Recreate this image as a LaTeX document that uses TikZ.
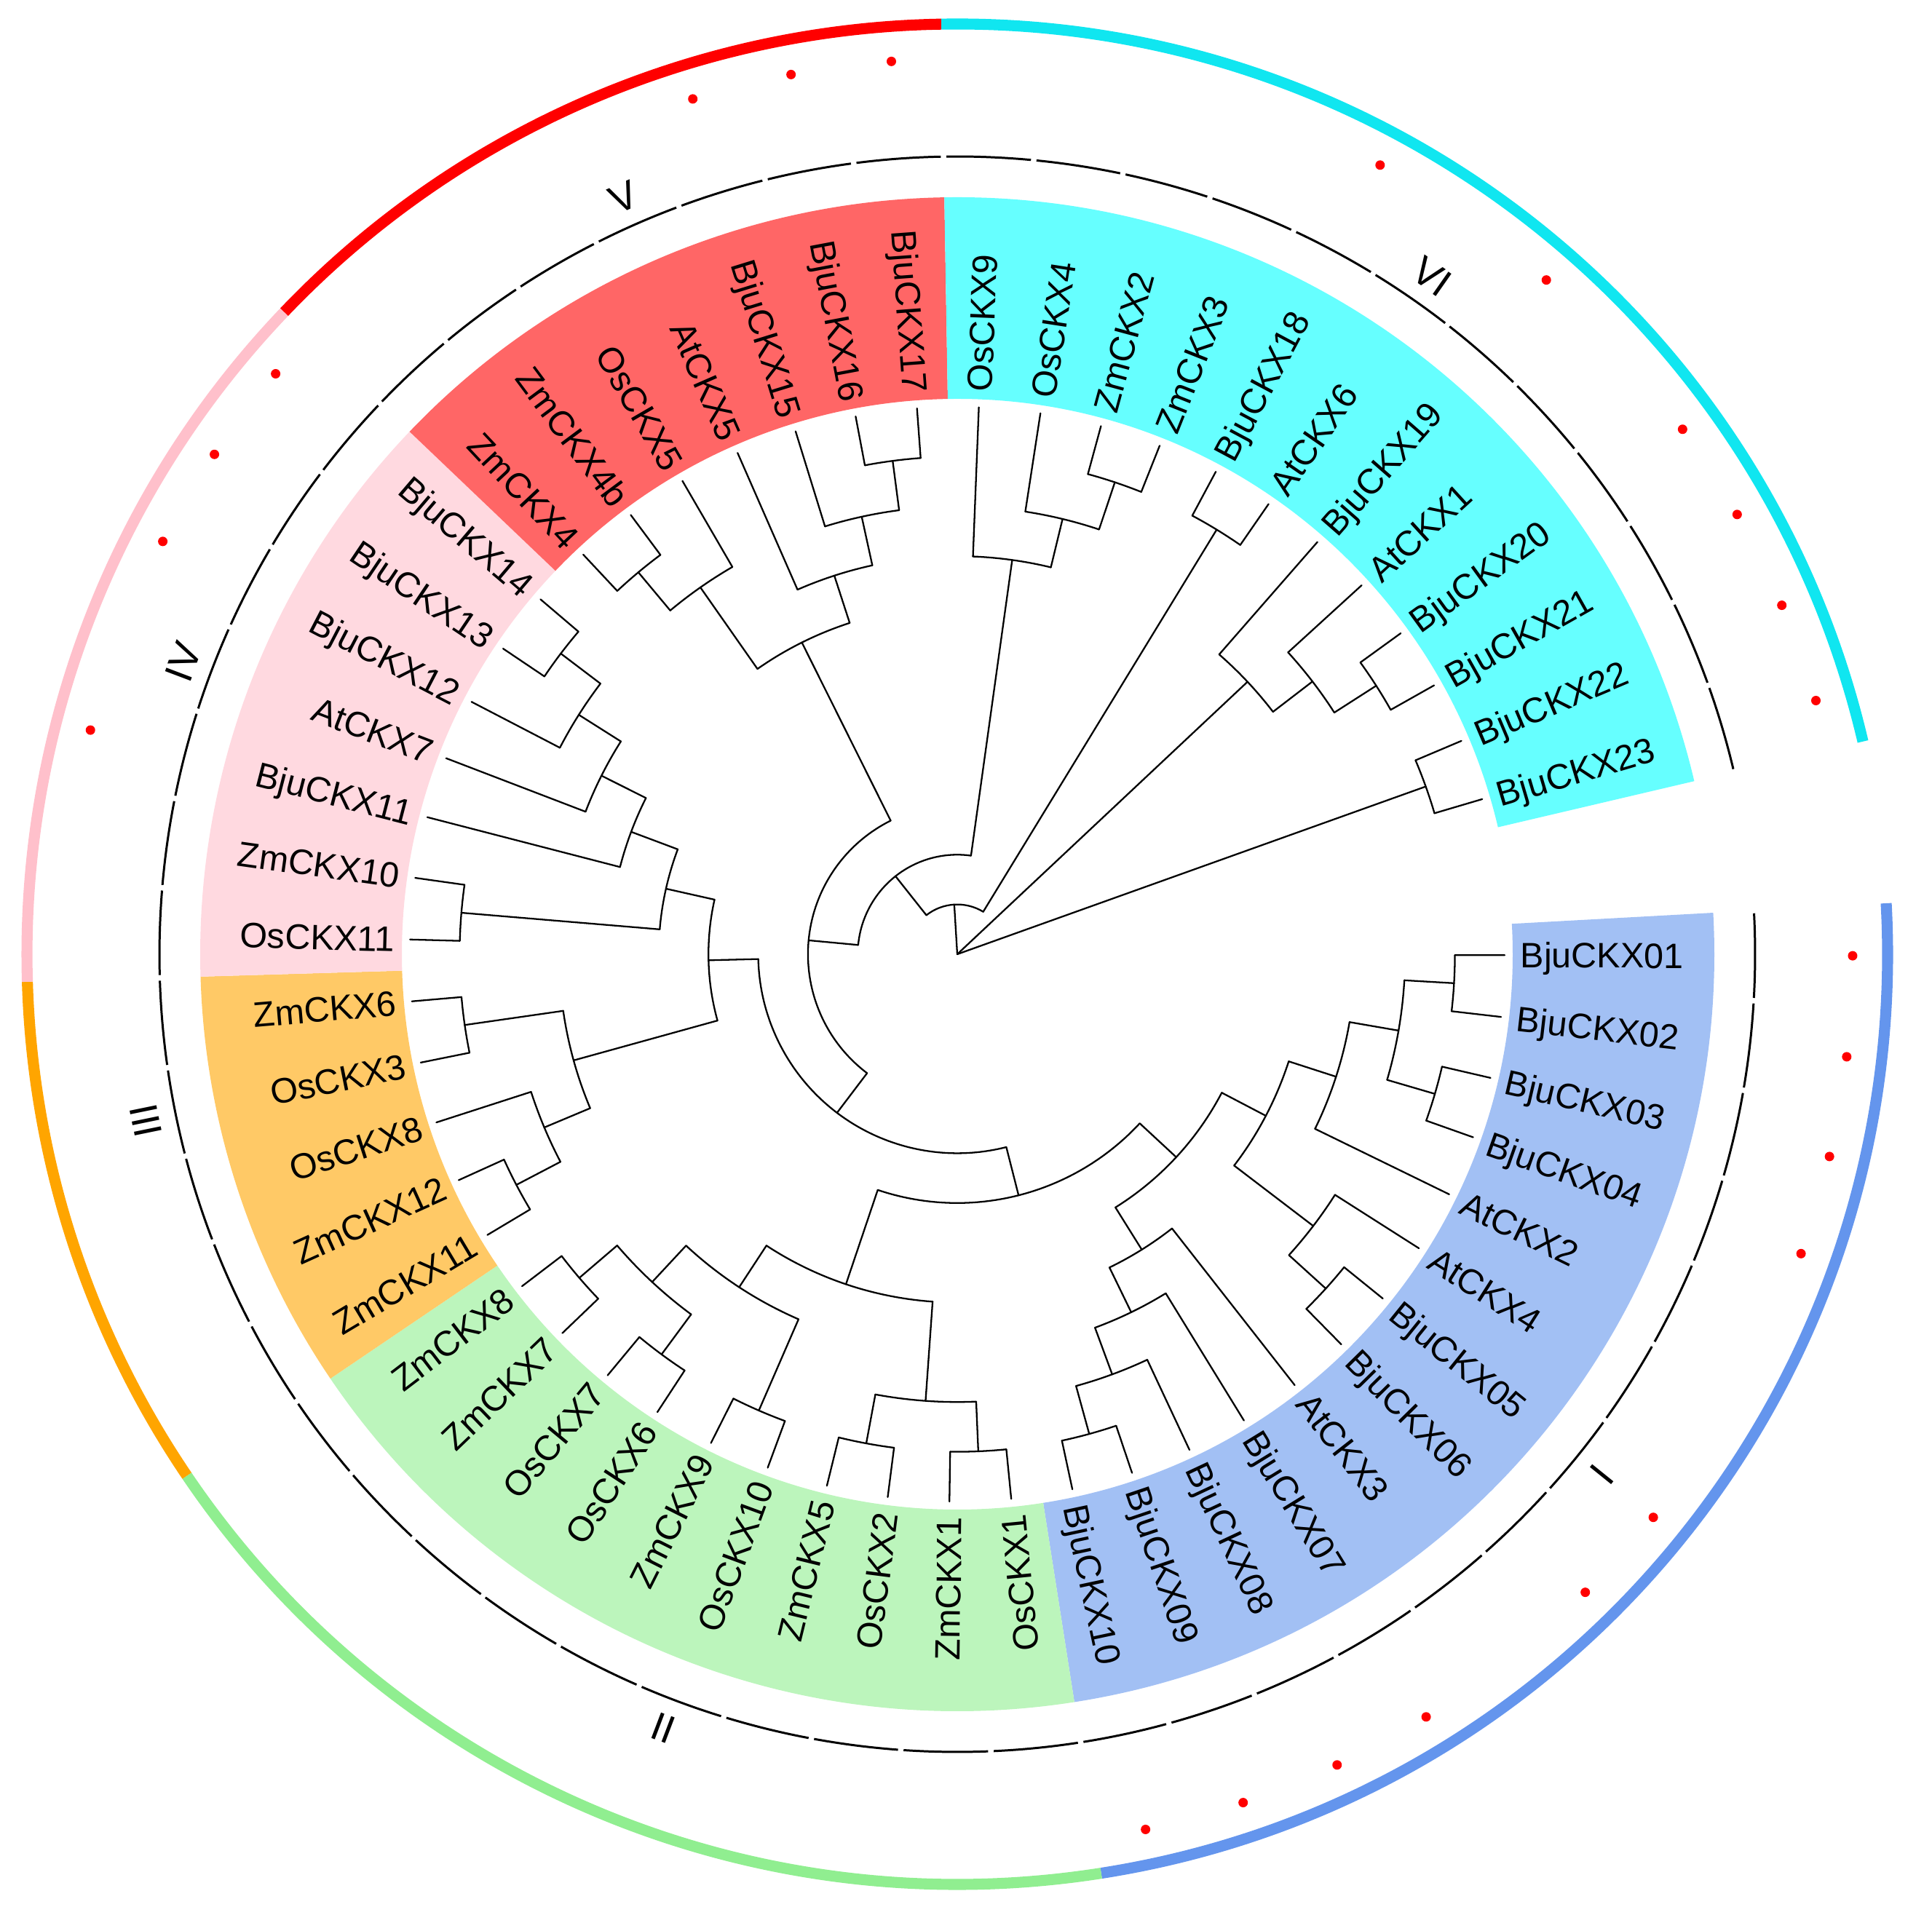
\documentclass[tikz,border=0pt]{standalone}
\usepackage{fontspec}
\setmainfont{Liberation Sans}
\definecolor{bandI}{HTML}{A2C0F4}
\definecolor{bandII}{HTML}{BCF5BC}
\definecolor{bandIII}{HTML}{FFC966}
\definecolor{bandIV}{HTML}{FFD9E0}
\definecolor{bandV}{HTML}{FF6666}
\definecolor{bandVI}{HTML}{66FFFF}
\definecolor{ringI}{HTML}{6495ED}
\definecolor{ringII}{HTML}{90EE90}
\definecolor{ringIII}{HTML}{FFA500}
\definecolor{ringIV}{HTML}{FFC0CB}
\definecolor{ringV}{HTML}{FF0000}
\definecolor{ringVI}{HTML}{10E6F0}
\definecolor{dotred}{HTML}{FF0000}
\begin{document}
\begin{tikzpicture}[
    branch/.style={line width=0.65pt, line cap=round, line join=round},
    segring/.style={line width=0.85pt},
    outring/.style={line width=4.3pt},
    leaflab/.style={font=\fontsize{13.8}{16}\selectfont, inner sep=0pt, text height=9.9pt, text depth=0pt},
    cladenum/.style={font=\fontsize{15.5}{18}\selectfont, inner sep=0pt, text height=11pt, text depth=0pt}
]
\useasboundingbox (-13.15,-13.20) rectangle (13.39,13.11);

\foreach \sa/\sb/\cb/\cr in {3.14/-81.10/bandI/ringI, -81.10/-145.90/bandII/ringII,
    -145.90/-178.30/bandIII/ringIII, -178.30/-223.66/bandIV/ringIV,
    -223.66/-269.02/bandV/ringV, -269.02/-346.78/bandVI/ringVI} {
    \fill[\cb] (\sa:7.63) arc[start angle=\sa, end angle=\sb, radius=7.63]
        -- (\sb:10.40) arc[start angle=\sb, end angle=\sa, radius=10.40] -- cycle;
    \draw[outring,\cr] (\sa:12.78) arc[start angle=\sa, end angle=\sb, radius=12.78];
}

\foreach \i in {0,...,53} {
    \pgfmathsetmacro\ang{-0.1-6.48*\i}
    \pgfmathsetmacro\sa{\ang+3.04}
    \pgfmathsetmacro\sb{\ang-3.04}
    \draw[segring] (\sa:10.96) arc[start angle=\sa, end angle=\sb, radius=10.96];
}

\foreach \i in {0,1,2,3,6,7,9,10,11,12,30,32,33,34,39,40,41,46,48,50,51,52,53} {
    \pgfmathsetmacro\ang{-0.1-6.48*\i}
    \fill[dotred] (\ang:12.30) circle[radius=0.065];
}

\foreach \k/\sa/\sb/\q in {10/-0.10/-6.58/9, 10/-13.06/-19.54/9, 9/-3.34/-16.30/8,
    8/-9.82/-26.02/7, 10/-38.98/-45.46/9, 9/-32.50/-42.22/7, 7/-17.92/-37.36/6,
    10/-71.38/-77.86/9, 9/-64.90/-74.62/8, 8/-58.42/-69.76/7, 7/-51.94/-64.09/6,
    6/-27.64/-58.02/5,
    10/-84.34/-90.82/9, 10/-97.30/-103.78/9, 9/-87.58/-100.54/7, 10/-110.26/-116.74/8,
    10/-123.22/-129.70/9, 10/-136.18/-142.66/9, 9/-126.46/-139.42/8, 8/-113.50/-132.94/7,
    7/-94.06/-123.22/5, 5/-42.83/-108.64/4,
    10/-149.14/-155.62/9, 9/-152.38/-162.10/8, 10/-168.58/-175.06/8, 8/-157.24/-171.82/5,
    10/-181.54/-188.02/6, 10/-213.94/-220.42/9, 9/-207.46/-217.18/8, 8/-200.98/-212.32/7,
    7/-194.50/-206.65/6, 6/-184.78/-200.575/5, 5/-164.53/-192.68/4, 4/-75.735/-178.6/3,
    10/-226.90/-233.38/9, 9/-230.14/-239.86/7, 10/-259.30/-265.78/9, 9/-252.82/-262.54/8,
    8/-246.34/-257.68/7, 7/-235.0/-252.01/3, 3/-127.17/-243.5/2,
    10/-285.22/-291.70/9, 9/-278.74/-288.46/8, 8/-272.26/-283.6/2, 2/-185.34/-277.93/1,
    10/-298.18/-304.66/1, 1/-231.64/-301.42/0,
    10/-324.10/-330.58/9, 9/-317.62/-327.34/8, 8/-311.14/-322.48/0, 10/-337.06/-343.54/0} {
    \pgfmathsetmacro\rr{\k*0.6836}
    \pgfmathsetmacro\rq{\q*0.6836}
    \pgfmathsetmacro\ma{(\sa+\sb)/2}
    \draw[branch] (\ma:\rq) -- (\ma:\rr);
    \draw[branch] (\sa:\rr) arc[start angle=\sa, end angle=\sb, radius=\rr];
}

\foreach \i/\p in {0/10,1/10,2/10,3/10,4/8,5/9,6/10,7/10,8/7,9/8,10/9,11/10,12/10,
    13/10,14/10,15/10,16/10,17/10,18/10,19/10,20/10,21/10,22/10,23/10,24/10,25/9,26/10,
    27/10,28/10,29/10,30/7,31/8,32/9,33/10,34/10,35/10,36/10,37/9,38/8,39/9,40/10,41/10,
    42/8,43/9,44/10,45/10,46/10,47/10,48/8,49/9,50/10,51/10,52/10,53/10} {
    \pgfmathsetmacro\ang{-0.1-6.48*\i}
    \pgfmathsetmacro\rq{\p*0.6836}
    \coordinate (tip\i) at (\ang:7.52);
    \draw[branch] (\ang:\rq) -- (tip\i);
}

\foreach \i/\name in {0/BjuCKX01,1/BjuCKX02,2/BjuCKX03,3/BjuCKX04,4/AtCKX2,5/AtCKX4,
    6/BjuCKX05,7/BjuCKX06,8/AtCKX3,9/BjuCKX07,10/BjuCKX08,11/BjuCKX09,12/BjuCKX10,
    42/OsCKX9,43/OsCKX4,44/ZmCKX2,45/ZmCKX3,46/BjuCKX18,47/AtCKX6,48/BjuCKX19,
    49/AtCKX1,50/BjuCKX20,51/BjuCKX21,52/BjuCKX22,53/BjuCKX23} {
    \pgfmathsetmacro\ang{-0.1-6.48*\i}
    \node[leaflab, anchor=west, rotate=\ang] (lab\i) at (\ang:7.73) {\name};
}
\foreach \i/\name in {13/OsCKX1,14/ZmCKX1,15/OsCKX2,16/ZmCKX5,17/OsCKX10,18/ZmCKX9,
    19/OsCKX6,20/OsCKX7,21/ZmCKX7,22/ZmCKX8,23/ZmCKX11,24/ZmCKX12,25/OsCKX8,26/OsCKX3,
    27/ZmCKX6,28/OsCKX11,29/ZmCKX10,30/BjuCKX11,31/AtCKX7,32/BjuCKX12,33/BjuCKX13,
    34/BjuCKX14,35/ZmCKX4,36/ZmCKX4b,37/OsCKX5,38/AtCKX5,39/BjuCKX15,40/BjuCKX16,
    41/BjuCKX17} {
    \pgfmathsetmacro\ang{-0.1-6.48*\i}
    \pgfmathsetmacro\rot{\ang+180}
    \node[leaflab, anchor=east, rotate=\rot] (lab\i) at (\ang:7.73) {\name};
}

\foreach \ang/\rot/\num in {-38.9/51.1/I, -110.8/-20.8/II, -168.4/-78.4/III,
    159.3/69.3/IV, 113.8/23.8/V, 55.0/-35.0/VI} {
    \node[cladenum, rotate=\rot] (clade\num) at (\ang:11.37) {\num};
}
\end{tikzpicture}
\end{document}
